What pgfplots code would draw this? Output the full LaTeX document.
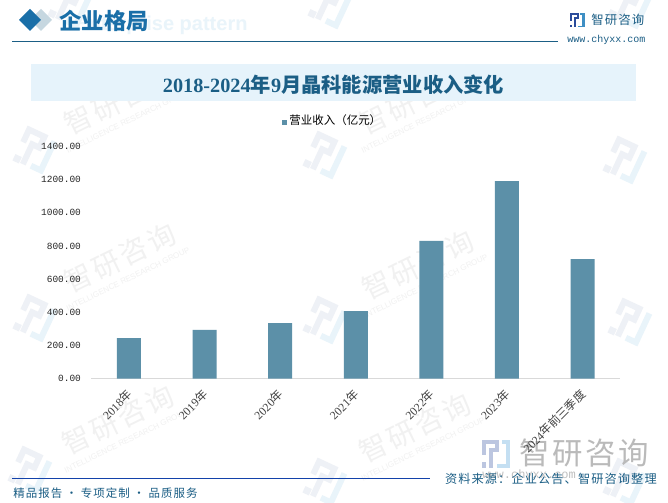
\documentclass[border=0pt]{standalone}
\usepackage{pgfplots}
\pgfplotsset{compat=1.18}
\usepackage{fontspec}
\setmainfont{Noto Sans CJK SC}
\newfontfamily\cjk{Noto Sans CJK SC}
\newfontfamily\cjksp[LetterSpace=9]{Noto Sans CJK SC}
\newfontfamily\ser{Liberation Serif}
\newfontfamily\mon{Liberation Mono}
\newfontfamily\arl{Liberation Sans}
\definecolor{barc}{HTML}{5C90A8}
\definecolor{navy}{HTML}{1B5E85}
\definecolor{headb}{HTML}{1A6FA8}
\definecolor{wmg}{HTML}{F1F1F1}
\definecolor{wmb}{HTML}{EEF1F6}
\definecolor{wmc}{HTML}{E9F4FA}
\definecolor{band}{HTML}{E6F3FB}
\definecolor{logob}{HTML}{2B4C9B}
\definecolor{logoc}{HTML}{3E8FC4}
\definecolor{logop}{HTML}{BCC6E0}
\definecolor{logoq}{HTML}{C4DFF2}
\newcommand{\fs}[1]{\fontsize{#1}{#1}\selectfont}
\newcommand{\wmtext}[2]{%
  \node[rotate=26,text=wmg,inner sep=0pt] at (#1,#2) {\fs{21}\cjksp 智研咨询};
  \node[rotate=26,text=wmg,inner sep=0pt] at ({#1+8},{#2+21}) {\fs{6}\arl INTELLIGENCE RESEARCH GROUP};
}
\newcommand{\wmicon}[2]{%
  \begin{scope}[shift={(#1,#2)},rotate=-25]
    \draw[wmb,line width=4.5pt] (-14,-2) -- (-14,-16) -- (3,-16) -- (3,-4) -- (-5,-4) -- (-5,18);
    \draw[wmc,line width=4.5pt] (14,-16) -- (14,16) -- (3,16);
    \fill[wmb] (-16,12) rectangle (-9,19);
  \end{scope}
}
% logo in a unit box, #1 x, #2 y, #3 scale, #4 #5 colours
\newcommand{\logo}[5]{%
  \begin{scope}[shift={(#1,#2)},scale=#3]
    \fill[#4] (0,0) rectangle (6,1.3);
    \fill[#4] (0,0) rectangle (1.3,5.5);
    \fill[#4] (4.7,0) rectangle (6,4.2);
    \fill[#4] (2.6,2.9) rectangle (6,4.2);
    \fill[#4] (2.6,2.9) rectangle (3.9,10);
    \fill[#4] (0,8) rectangle (1.5,10);
    \fill[#5] (7.2,0) rectangle (10,1.5);
    \fill[#5] (8.6,0) rectangle (10,10);
    \fill[#5] (5.2,8.7) rectangle (10,10);
  \end{scope}
}
\begin{document}
\begin{tikzpicture}
\begin{scope}[x=0.75pt,y=-0.75pt]
\clip (0,0) rectangle (668,503);
\fill[white] (0,0) rectangle (668,503);
% watermarks
\wmicon{35}{150}\wmicon{35}{318}\wmicon{30}{470}
\wmicon{325}{155}\wmicon{325}{320}\wmicon{325}{482}\wmicon{330}{5}
\wmicon{625}{160}\wmicon{630}{322}\wmicon{625}{482}\wmicon{630}{5}\wmicon{70}{5}
\wmtext{120}{100}\wmtext{120}{258}\wmtext{118}{420}
\wmtext{415}{100}\wmtext{418}{265}\wmtext{415}{428}
% header
\node[anchor=west,text=wmc,inner sep=0pt] at (75,25) {\fs{15}\arl\bfseries Enterprise pattern};
\fill[navy!25!white] (41,9) -- (52,20) -- (41,31) -- (30,20) -- cycle;
\fill[headb] (30,9) -- (41,20) -- (30,31) -- (19,20) -- cycle;
\node[anchor=west,text=headb,inner sep=0pt] at (59,21) {\fs{16.8}\cjk\bfseries 企业格局};
\draw[navy,line width=0.7pt] (12,41) -- (558,41);
% logo top right
\logo{570}{13}{1.45}{logob}{logoc}
\node[anchor=west,text=navy,inner sep=0pt] at (591,20) {\fs{9.3}\cjksp 智研咨询};
\node[anchor=west,text=navy,inner sep=0pt] at (567,40) {\fs{7.5}\mon www.chyxx.com};
% title band
\fill[band] (31,64) rectangle (636,101);
\node[text=navy,inner sep=0pt] at (333.5,85) {\fs{15.2}\bfseries{\ser 2018-2024}{\cjk 年}{\ser 9}{\cjk 月晶科能源营业收入变化}};
% bottom logo
\logo{482}{440}{2.8}{logop}{logoq}
\node[anchor=west,text=black!27,inner sep=0pt] at (519,453) {\fs{22.8}\cjksp 智研咨询};
\node[anchor=west,text=black!25,inner sep=0pt] at (482,475) {\fs{9}\mon www.chyxx.com};
% footer
\draw[navy!70!blue,line width=0.6pt] (12,478) -- (430,478);
\node[anchor=west,text=navy,inner sep=0pt] at (13,493) {\fs{8.6}\cjksp 精品报告 · 专项定制 · 品质服务};
\node[anchor=east,text=navy,inner sep=0pt] at (657,479) {\fs{9.15}\cjksp 资料来源：企业公告、智研咨询整理};
\end{scope}
\begin{axis}[
  at={(68.4pt,-283.9pt)},anchor=south west,
  width=396.9pt,height=174pt,scale only axis,
  xmin=-0.5,xmax=6.5,ymin=0,ymax=1400,
  ybar,bar width=18pt,
  axis y line*=left,axis x line*=bottom,
  y axis line style={draw=none},
  x axis line style={draw=black!15,line width=0.8pt},
  axis line style={-},
  major tick style={draw=none},
  xtick=data,
  xticklabels={{\ser 2018}年,{\ser 2019}年,{\ser 2020}年,{\ser 2021}年,{\ser 2022}年,{\ser 2023}年,{\ser 2024}年前三季度},
  x tick label style={rotate=45,anchor=north east,font=\fs{8.8}\cjk,text=black!75,inner sep=0pt,xshift=-3.7pt,yshift=-0.35pt},
  ytick={0,200,400,600,800,1000,1200,1400},
  /pgf/number format/fixed,
  /pgf/number format/fixed zerofill,
  /pgf/number format/precision=2,
  /pgf/number format/1000 sep={},
  /pgf/number format/assume math mode=true,
  y tick label style={font=\fs{7.1}\mon,text=black!85,inner sep=0pt,xshift=-7.5pt},
  legend style={draw=none,fill=none,at={(0.457,1.11)},anchor=center,font=\fs{8.6}\cjk,inner sep=0pt,legend cell align=left},
  legend image code/.code={\fill[barc] (0.05cm,-0.1cm) rectangle (0.17cm,0.02cm);},
  clip=false,
]
\addplot[ybar,fill=barc,draw=none] coordinates {(0,244) (1,293) (2,335) (3,407) (4,830) (5,1192) (6,721)};
\addlegendentry{营业收入（亿元）}
\end{axis}
\end{tikzpicture}
\end{document}
